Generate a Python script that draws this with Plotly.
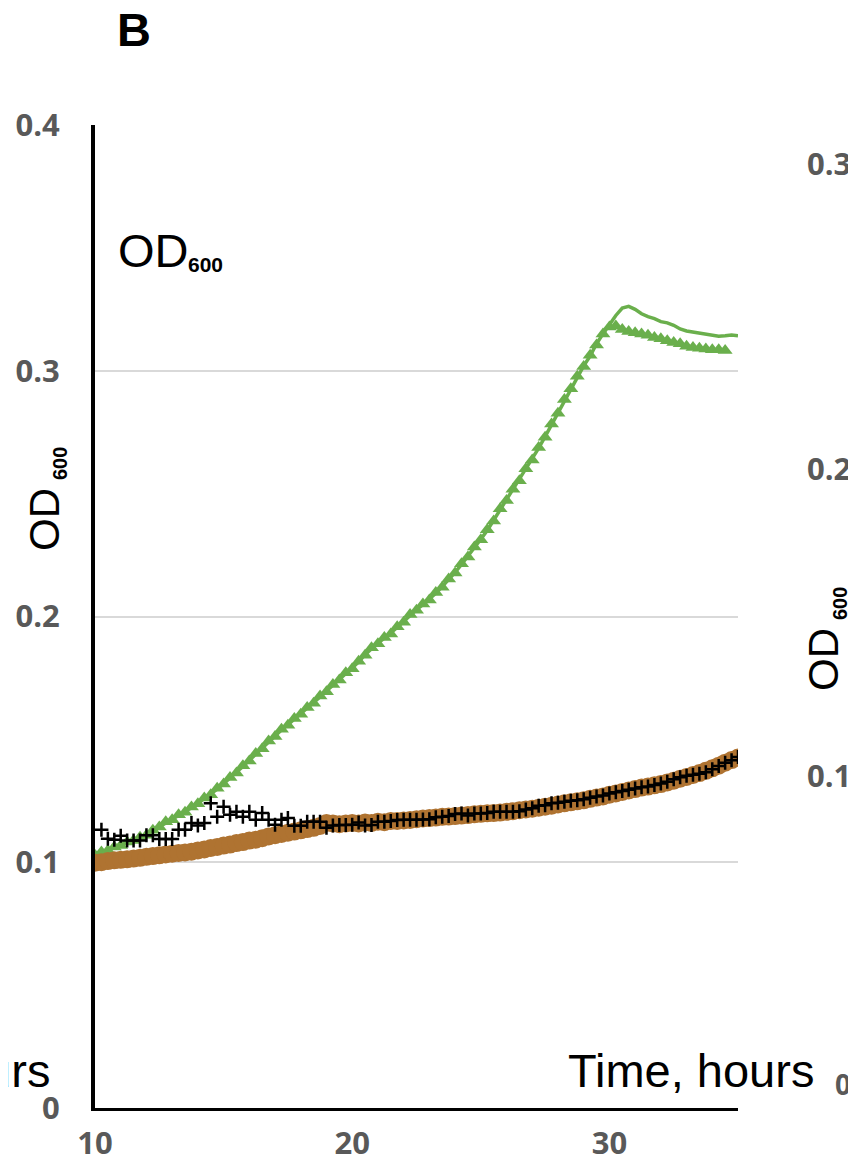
import plotly.graph_objects as go

# ---------------- data ----------------
hours = [10 + 0.25 * i for i in range(101)]   # sampling grid, 10 h .. 35 h

green_line = [
    0.1030, 0.1040, 0.1050, 0.1060,
    0.1070, 0.1080, 0.1090, 0.1100,
    0.1112, 0.1128, 0.1145, 0.1162,
    0.1175, 0.1190, 0.1205, 0.1222,
    0.1240, 0.1258, 0.1277, 0.1298,
    0.1320, 0.1342, 0.1365, 0.1390,
    0.1415, 0.1440, 0.1465, 0.1490,
    0.1515, 0.1538, 0.1560, 0.1582,
    0.1605, 0.1627, 0.1650, 0.1673,
    0.1697, 0.1720, 0.1745, 0.1768,
    0.1790, 0.1815, 0.1845, 0.1870,
    0.1892, 0.1912, 0.1932, 0.1955,
    0.1980, 0.2005, 0.2028, 0.2048,
    0.2070, 0.2095, 0.2122, 0.2150,
    0.2180, 0.2212, 0.2245, 0.2280,
    0.2315, 0.2350, 0.2392, 0.2435,
    0.2475, 0.2515, 0.2555, 0.2598,
    0.2640, 0.2685, 0.2732, 0.2780,
    0.2830, 0.2880, 0.2930, 0.2975,
    0.3020, 0.3060, 0.3110, 0.3150,
    0.3190, 0.3225, 0.3255, 0.3262,
    0.3250, 0.3232, 0.3220, 0.3212,
    0.3200, 0.3195, 0.3185, 0.3170,
    0.3162, 0.3158, 0.3155, 0.3150,
    0.3145, 0.3140, 0.3142, 0.3145,
    0.3142,
]

green_triangles = [
    0.1028, 0.1042, 0.1048, 0.1062,
    0.1068, 0.1082, 0.1088, 0.1102,
    0.1110, 0.1130, 0.1143, 0.1165,
    0.1173, 0.1193, 0.1203, 0.1225,
    0.1238, 0.1261, 0.1275, 0.1301,
    0.1318, 0.1345, 0.1363, 0.1393,
    0.1412, 0.1443, 0.1462, 0.1493,
    0.1512, 0.1541, 0.1557, 0.1585,
    0.1602, 0.1630, 0.1647, 0.1676,
    0.1694, 0.1723, 0.1742, 0.1771,
    0.1787, 0.1818, 0.1842, 0.1873,
    0.1889, 0.1915, 0.1929, 0.1958,
    0.1977, 0.2008, 0.2025, 0.2051,
    0.2067, 0.2098, 0.2119, 0.2153,
    0.2177, 0.2215, 0.2242, 0.2283,
    0.2312, 0.2353, 0.2389, 0.2438,
    0.2472, 0.2518, 0.2552, 0.2601,
    0.2637, 0.2688, 0.2729, 0.2783,
    0.2827, 0.2883, 0.2927, 0.2978,
    0.3017, 0.3063, 0.3105, 0.3150,
    0.3178, 0.3182, 0.3168, 0.3160,
    0.3155, 0.3150, 0.3144, 0.3135,
    0.3130, 0.3122, 0.3115, 0.3110,
    0.3100, 0.3095, 0.3092, 0.3088,
    0.3085, 0.3085, 0.3082,
]

brown_circles = [
    0.0998, 0.1000, 0.1005, 0.1008,
    0.1010, 0.1012, 0.1015, 0.1018,
    0.1022, 0.1025, 0.1028, 0.1032,
    0.1035, 0.1038, 0.1040, 0.1043,
    0.1048, 0.1052, 0.1058, 0.1062,
    0.1068, 0.1072, 0.1078, 0.1082,
    0.1088, 0.1092, 0.1098, 0.1105,
    0.1110, 0.1115, 0.1120, 0.1125,
    0.1130, 0.1135, 0.1140, 0.1148,
    0.1160, 0.1158, 0.1155, 0.1158,
    0.1160, 0.1158, 0.1162, 0.1160,
    0.1165, 0.1163, 0.1168, 0.1168,
    0.1170, 0.1172, 0.1175, 0.1178,
    0.1180, 0.1182, 0.1185, 0.1186,
    0.1188, 0.1190, 0.1192, 0.1195,
    0.1197, 0.1199, 0.1200, 0.1202,
    0.1205, 0.1208, 0.1212, 0.1215,
    0.1218, 0.1222, 0.1226, 0.1230,
    0.1235, 0.1240, 0.1244, 0.1248,
    0.1252, 0.1258, 0.1263, 0.1268,
    0.1275, 0.1280, 0.1286, 0.1292,
    0.1298, 0.1304, 0.1308, 0.1313,
    0.1318, 0.1325, 0.1332, 0.1340,
    0.1347, 0.1355, 0.1363, 0.1372,
    0.1382, 0.1393, 0.1405, 0.1416,
    0.1426,
]

black_plus = [
            0.1132, 0.1096, 0.1092,
    0.1108, 0.1088, 0.1088, 0.1088,
    0.1110, 0.1110, 0.1095, 0.1095,
    0.1095, 0.1132, 0.1132, 0.1160,
    0.1150, 0.1160, 0.1240, 0.1185,
    0.1226, 0.1193, 0.1206, 0.1185,
    0.1206, 0.1173, 0.1200, 0.1173,
    0.1153, 0.1173, 0.1180, 0.1149,
    0.1149, 0.1165, 0.1165, 0.1165,
    0.1140, 0.1150, 0.1152, 0.1152,
    0.1153, 0.1162, 0.1150, 0.1152,
    0.1165, 0.1165, 0.1168, 0.1172,
    0.1173, 0.1173, 0.1173, 0.1174,
    0.1175, 0.1183, 0.1185, 0.1188,
    0.1196, 0.1198, 0.1190, 0.1198,
    0.1198, 0.1200, 0.1206, 0.1206,
    0.1206, 0.1206, 0.1208, 0.1215,
    0.1220, 0.1230, 0.1232, 0.1240,
    0.1242, 0.1246, 0.1250, 0.1252,
    0.1256, 0.1262, 0.1268, 0.1272,
    0.1280, 0.1285, 0.1290, 0.1295,
    0.1300, 0.1305, 0.1308, 0.1314,
    0.1320, 0.1328, 0.1338, 0.1346,
    0.1352, 0.1356, 0.1360, 0.1366,
    0.1378, 0.1392, 0.1405, 0.1415,
    0.1428,
]

x_tick_vals = [10, 20, 30]
x_tick_text = ["10", "20", "30"]
y_tick_vals = [0, 0.1, 0.2, 0.3, 0.4]
y_tick_text = ["0", "0.1", "0.2", "0.3", "0.4"]
right_panel_ticks = ["0.3", "0.2", "0.1", "0"]

# ---------------- styling ----------------
GREEN = "#6AAF4C"
BROWN = "#AF7331"
TICK_GRAY = "#595959"
PAGE_OFF = 8                     # default body margin of the html page
W, H = 856 - PAGE_OFF, 1172 - PAGE_OFF
# plot area in page pixels: x 95..738, y 125..1108
ML, MR, MT, MB = 95 - PAGE_OFF, 856 - 738, 125 - PAGE_OFF, 1172 - 1108
PW, PH = W - ML - MR, H - MT - MB


def px(x):
    """page pixel x -> paper coordinate"""
    return (x - 95) / PW


def py(y):
    """page pixel y -> paper coordinate"""
    return (1108 - y) / PH


fig = go.Figure()
fig.add_trace(go.Scatter(x=hours, y=green_line, mode="lines",
                         line=dict(color=GREEN, width=3.5), showlegend=False))
fig.add_trace(go.Scatter(x=hours[:len(green_triangles)], y=green_triangles, mode="markers",
                         marker=dict(symbol="triangle-up", size=13, color=GREEN),
                         showlegend=False))
fig.add_trace(go.Scatter(x=hours, y=brown_circles, mode="markers",
                         marker=dict(symbol="circle", size=18, color=BROWN),
                         showlegend=False))
fig.add_trace(go.Scatter(x=hours[1:], y=black_plus, mode="markers",
                         marker=dict(symbol="cross-thin", size=10, color="black",
                                     line=dict(color="black", width=2.5)),
                         showlegend=False))

tickfont = dict(family="Open Sans", size=31, color=TICK_GRAY, weight="bold")

fig.update_xaxes(range=[10, 35], tickvals=x_tick_vals, ticktext=x_tick_text,
                 showgrid=False, zeroline=False, showline=True, linecolor="black",
                 linewidth=3, ticks="", tickfont=tickfont, ticklabelstandoff=6,
                 automargin=False)
fig.update_yaxes(range=[0, 0.4], tickvals=y_tick_vals, ticktext=y_tick_text,
                 showgrid=True, gridcolor="#D9D9D9", gridwidth=2, zeroline=False,
                 showline=True, linecolor="black", linewidth=4, ticks="",
                 tickfont=tickfont, ticklabelstandoff=25, automargin=False)

ann = []
txt = dict(family="Liberation Sans", color="black")
ann.append(dict(x=px(134), y=py(30), text="<b>B</b>", font=dict(txt, size=47),
                xanchor="center", yanchor="middle"))
# in-plot OD600 label
ann.append(dict(x=px(116), y=py(250), text="OD", font=dict(txt, size=47),
                xanchor="left", yanchor="middle"))
ann.append(dict(x=px(186), y=py(264), text="<b>600</b>", font=dict(txt, size=21),
                xanchor="left", yanchor="middle"))
# left axis title OD600 (rotated)
ann.append(dict(x=px(44), y=py(520), text="OD", font=dict(txt, size=42),
                textangle=-90, xanchor="center", yanchor="middle"))
ann.append(dict(x=px(60), y=py(464), text="<b>600</b>", font=dict(txt, size=20),
                textangle=-90, xanchor="center", yanchor="middle"))
# axis title "Time, hours" and the cut-off one from the neighbouring panel
ann.append(dict(x=px(691), y=py(1070), text="Time, hours", font=dict(txt, size=47),
                xanchor="center", yanchor="middle"))
ann.append(dict(x=px(52), y=py(1070), text="Time, hours", font=dict(txt, size=47),
                xanchor="right", yanchor="middle"))
# neighbouring panel's y axis (partly visible at the right)
for label, ypos in zip(right_panel_ticks, [163, 468, 775, 1084]):
    ann.append(dict(x=px(853), y=py(ypos), text=label,
                    font=dict(family="Open Sans", size=31 if label != "0" else 28,
                              color=TICK_GRAY, weight="bold"),
                    xanchor="right", yanchor="middle"))
ann.append(dict(x=px(824), y=py(660), text="OD", font=dict(txt, size=42),
                textangle=-90, xanchor="center", yanchor="middle"))
ann.append(dict(x=px(840), y=py(604), text="<b>600</b>", font=dict(txt, size=20),
                textangle=-90, xanchor="center", yanchor="middle"))

for a in ann:
    a.update(xref="paper", yref="paper", showarrow=False)

fig.update_layout(width=W, height=H, margin=dict(l=ML, r=MR, t=MT, b=MB, autoexpand=False),
                  plot_bgcolor="white", paper_bgcolor="white",
                  annotations=ann, showlegend=False)

fig.write_html("out.html")
